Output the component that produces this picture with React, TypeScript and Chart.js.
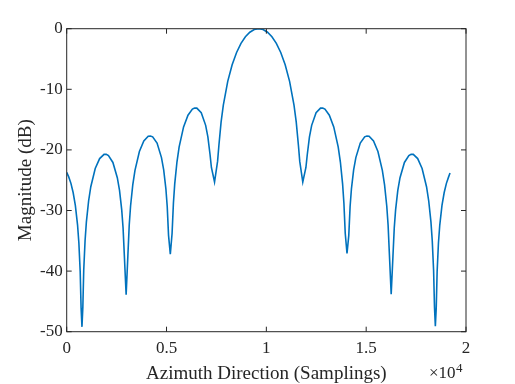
import React, { useEffect, useRef } from "react";
import { Chart, registerables } from "chart.js";

Chart.register(...registerables);

// Azimuth sample positions (samplings)
const sampleIndex: number[] = [
  0, 101, 212, 322, 433, 544, 610, 676, 721, 765,
  809, 853, 920, 986, 1097, 1207, 1429, 1650, 1871, 1982, 2092, 2314, 2535, 2646, 2756, 2823, 2889,
  2977,
  3066, 3132, 3199, 3309, 3420, 3641, 3862, 4084, 4194, 4305, 4526, 4747, 4858, 4969, 5035, 5101,
  5190,
  5278, 5345, 5411, 5522, 5632, 5854, 6075, 6296, 6407, 6517, 6739, 6960, 7071, 7181, 7248,
  7405,
  7557, 7624, 7734, 7845, 8066, 8287, 8509, 8730, 8951, 9172, 9394,
  9615,
  9836, 10058, 10279, 10500, 10721, 10943, 11164, 11385, 11496, 11606, 11673,
  11825,
  11982, 12049, 12159, 12270, 12491, 12713, 12823, 12934, 13155, 13376, 13598, 13708, 13819, 13885, 13952,
  14040,
  14129, 14195, 14261, 14372, 14483, 14704, 14925, 15036, 15146, 15368, 15589, 15810, 15921, 16031, 16098, 16164,
  16253,
  16341, 16407, 16474, 16584, 16695, 16916, 17138, 17248, 17359, 17580, 17801, 18023, 18133, 18244, 18310, 18377, 18421,
  18465,
  18509, 18554, 18620, 18686, 18797, 18908, 19018, 19129, 19200,
];

// Magnitude (dB)
const magnitudeDb: number[] = [
  -23.7, -24.45, -25.52, -27.03, -29.16, -32.4, -35.37, -40.11, -46.07, -49.2,
  -45.9, -39.86, -34.98, -31.88, -28.43, -26.08, -23.07, -21.43, -20.74, -20.73, -20.93, -22.07, -24.59, -26.69, -29.89, -32.84, -37.56,
  -43.9,
  -37.3, -32.4, -29.25, -25.76, -23.37, -20.27, -18.54, -17.76, -17.7, -17.85, -18.88, -21.27, -23.31, -26.45, -29.35, -34.1,
  -37.2,
  -33.8, -28.8, -25.6, -22.0, -19.5, -16.2, -14.27, -13.27, -13.08, -13.11, -13.86, -15.95, -17.85, -20.8, -22.9,
  -25.3,
  -21.9, -19.23, -15.39, -12.62, -8.69, -5.94, -3.92, -2.42, -1.33, -0.58, -0.14,
  0,
  -0.14, -0.58, -1.33, -2.42, -3.92, -5.94, -8.69, -12.62, -15.39, -19.23, -21.9,
  -25.3,
  -22.9, -20.8, -17.85, -15.95, -13.86, -13.11, -13.08, -13.27, -14.27, -16.2, -19.5, -22.0, -25.6, -28.8, -33.8,
  -37.1,
  -34.1, -29.35, -26.45, -23.31, -21.27, -18.88, -17.85, -17.7, -17.76, -18.54, -20.27, -23.37, -25.76, -29.25, -32.4, -37.3,
  -43.8,
  -37.56, -32.84, -29.89, -26.69, -24.59, -22.07, -20.93, -20.73, -20.74, -21.43, -23.07, -26.08, -28.43, -31.88, -34.98, -39.86, -45.9,
  -49.1,
  -46.07, -40.11, -35.37, -32.4, -29.16, -27.03, -25.52, -24.45, -23.8,
];

const xTickValues: number[] = [0, 5000, 10000, 15000, 20000];
const xTickLabels: string[] = ["0", "0.5", "1", "1.5", "2"];
const yTickValues: number[] = [-50, -40, -30, -20, -10, 0];

const xTitle = "Azimuth Direction (Samplings)";
const yTitle = "Magnitude (dB)";
const xExponentBase = "\u00d710";
const xExponent = "4";

const AXIS_COLOR = "#262626";
const LINE_COLOR = "#0072BD";
const FONT = "'Liberation Serif', 'Times New Roman', serif";

const boxPlugin = {
  id: "matlabBox",
  afterDatasetsDraw(chart: any) {
    const { ctx, chartArea: a, scales } = chart;
    const xs = scales.x;
    const ys = scales.y;
    ctx.save();
    ctx.strokeStyle = AXIS_COLOR;
    ctx.lineWidth = 1;
    ctx.strokeRect(a.left, a.top, a.right - a.left, a.bottom - a.top);
    const L = 5;
    ctx.beginPath();
    xs.ticks.forEach((t: any) => {
      const px = xs.getPixelForValue(t.value);
      ctx.moveTo(px, a.bottom);
      ctx.lineTo(px, a.bottom - L);
      ctx.moveTo(px, a.top);
      ctx.lineTo(px, a.top + L);
    });
    ys.ticks.forEach((t: any) => {
      const py = ys.getPixelForValue(t.value);
      ctx.moveTo(a.left, py);
      ctx.lineTo(a.left + L, py);
      ctx.moveTo(a.right, py);
      ctx.lineTo(a.right - L, py);
    });
    ctx.stroke();
    ctx.fillStyle = AXIS_COLOR;
    ctx.textAlign = "left";
    ctx.textBaseline = "alphabetic";
    ctx.font = `17px ${FONT}`;
    const bx = a.right - 37;
    const by = a.bottom + 46.5;
    ctx.fillText(xExponentBase, bx, by);
    const w = ctx.measureText(xExponentBase).width;
    ctx.font = `13px ${FONT}`;
    ctx.fillText(xExponent, bx + w + 0.5, by - 6);
    ctx.restore();
  },
};

export default function App() {
  const canvasRef = useRef<HTMLCanvasElement | null>(null);

  useEffect(() => {
    const canvas = canvasRef.current;
    if (!canvas) return;
    const points = sampleIndex.map((x, i) => ({ x, y: magnitudeDb[i] }));
    const chart = new Chart(canvas, {
      type: "line",
      data: {
        datasets: [
          {
            data: points,
            borderColor: LINE_COLOR,
            borderWidth: 1.6,
            pointRadius: 0,
            tension: 0,
            fill: false,
          },
        ],
      },
      options: {
        animation: false,
        responsive: false,
        devicePixelRatio: 1,
        layout: { padding: { top: 28.7, right: 49, bottom: 0, left: 0 } },
        plugins: {
          legend: { display: false },
          tooltip: { enabled: false },
        },
        scales: {
          x: {
            type: "linear",
            min: 0,
            max: 20000,
            afterBuildTicks: (s: any) => {
              s.ticks = xTickValues.map((v) => ({ value: v }));
            },
            afterFit: (s: any) => {
              s.height = 52.3;
            },
            grid: { display: false, drawTicks: false },
            border: { display: false },
            ticks: {
              color: AXIS_COLOR,
              font: { family: FONT, size: 17 },
              padding: 7,
              maxRotation: 0,
              autoSkip: false,
              callback: (v: any) => {
                const i = xTickValues.indexOf(Number(v));
                return i >= 0 ? xTickLabels[i] : "";
              },
            },
            title: {
              display: true,
              text: xTitle,
              color: AXIS_COLOR,
              font: { family: FONT, size: 19, lineHeight: 1 },
              padding: { top: 0, bottom: 0 },
            },
          },
          y: {
            type: "linear",
            min: -50,
            max: 0,
            afterBuildTicks: (s: any) => {
              s.ticks = yTickValues.map((v) => ({ value: v }));
            },
            afterFit: (s: any) => {
              s.width = 66.7;
            },
            grid: { display: false, drawTicks: false },
            border: { display: false },
            ticks: {
              color: AXIS_COLOR,
              font: { family: FONT, size: 17 },
              padding: 4,
              autoSkip: false,
              callback: (v: any) => String(v),
            },
            title: {
              display: true,
              text: yTitle,
              color: AXIS_COLOR,
              font: { family: FONT, size: 19, lineHeight: 1 },
              padding: { top: 17, bottom: 0 },
            },
          },
        },
      },
      plugins: [boxPlugin],
    });
    return () => chart.destroy();
  }, []);

  return (
    <div style={{ position: "absolute", left: 0, top: 0, width: 515, height: 384, background: "#fff" }}>
      <canvas ref={canvasRef} width={515} height={384} style={{ width: 515, height: 384, display: "block" }} />
    </div>
  );
}
